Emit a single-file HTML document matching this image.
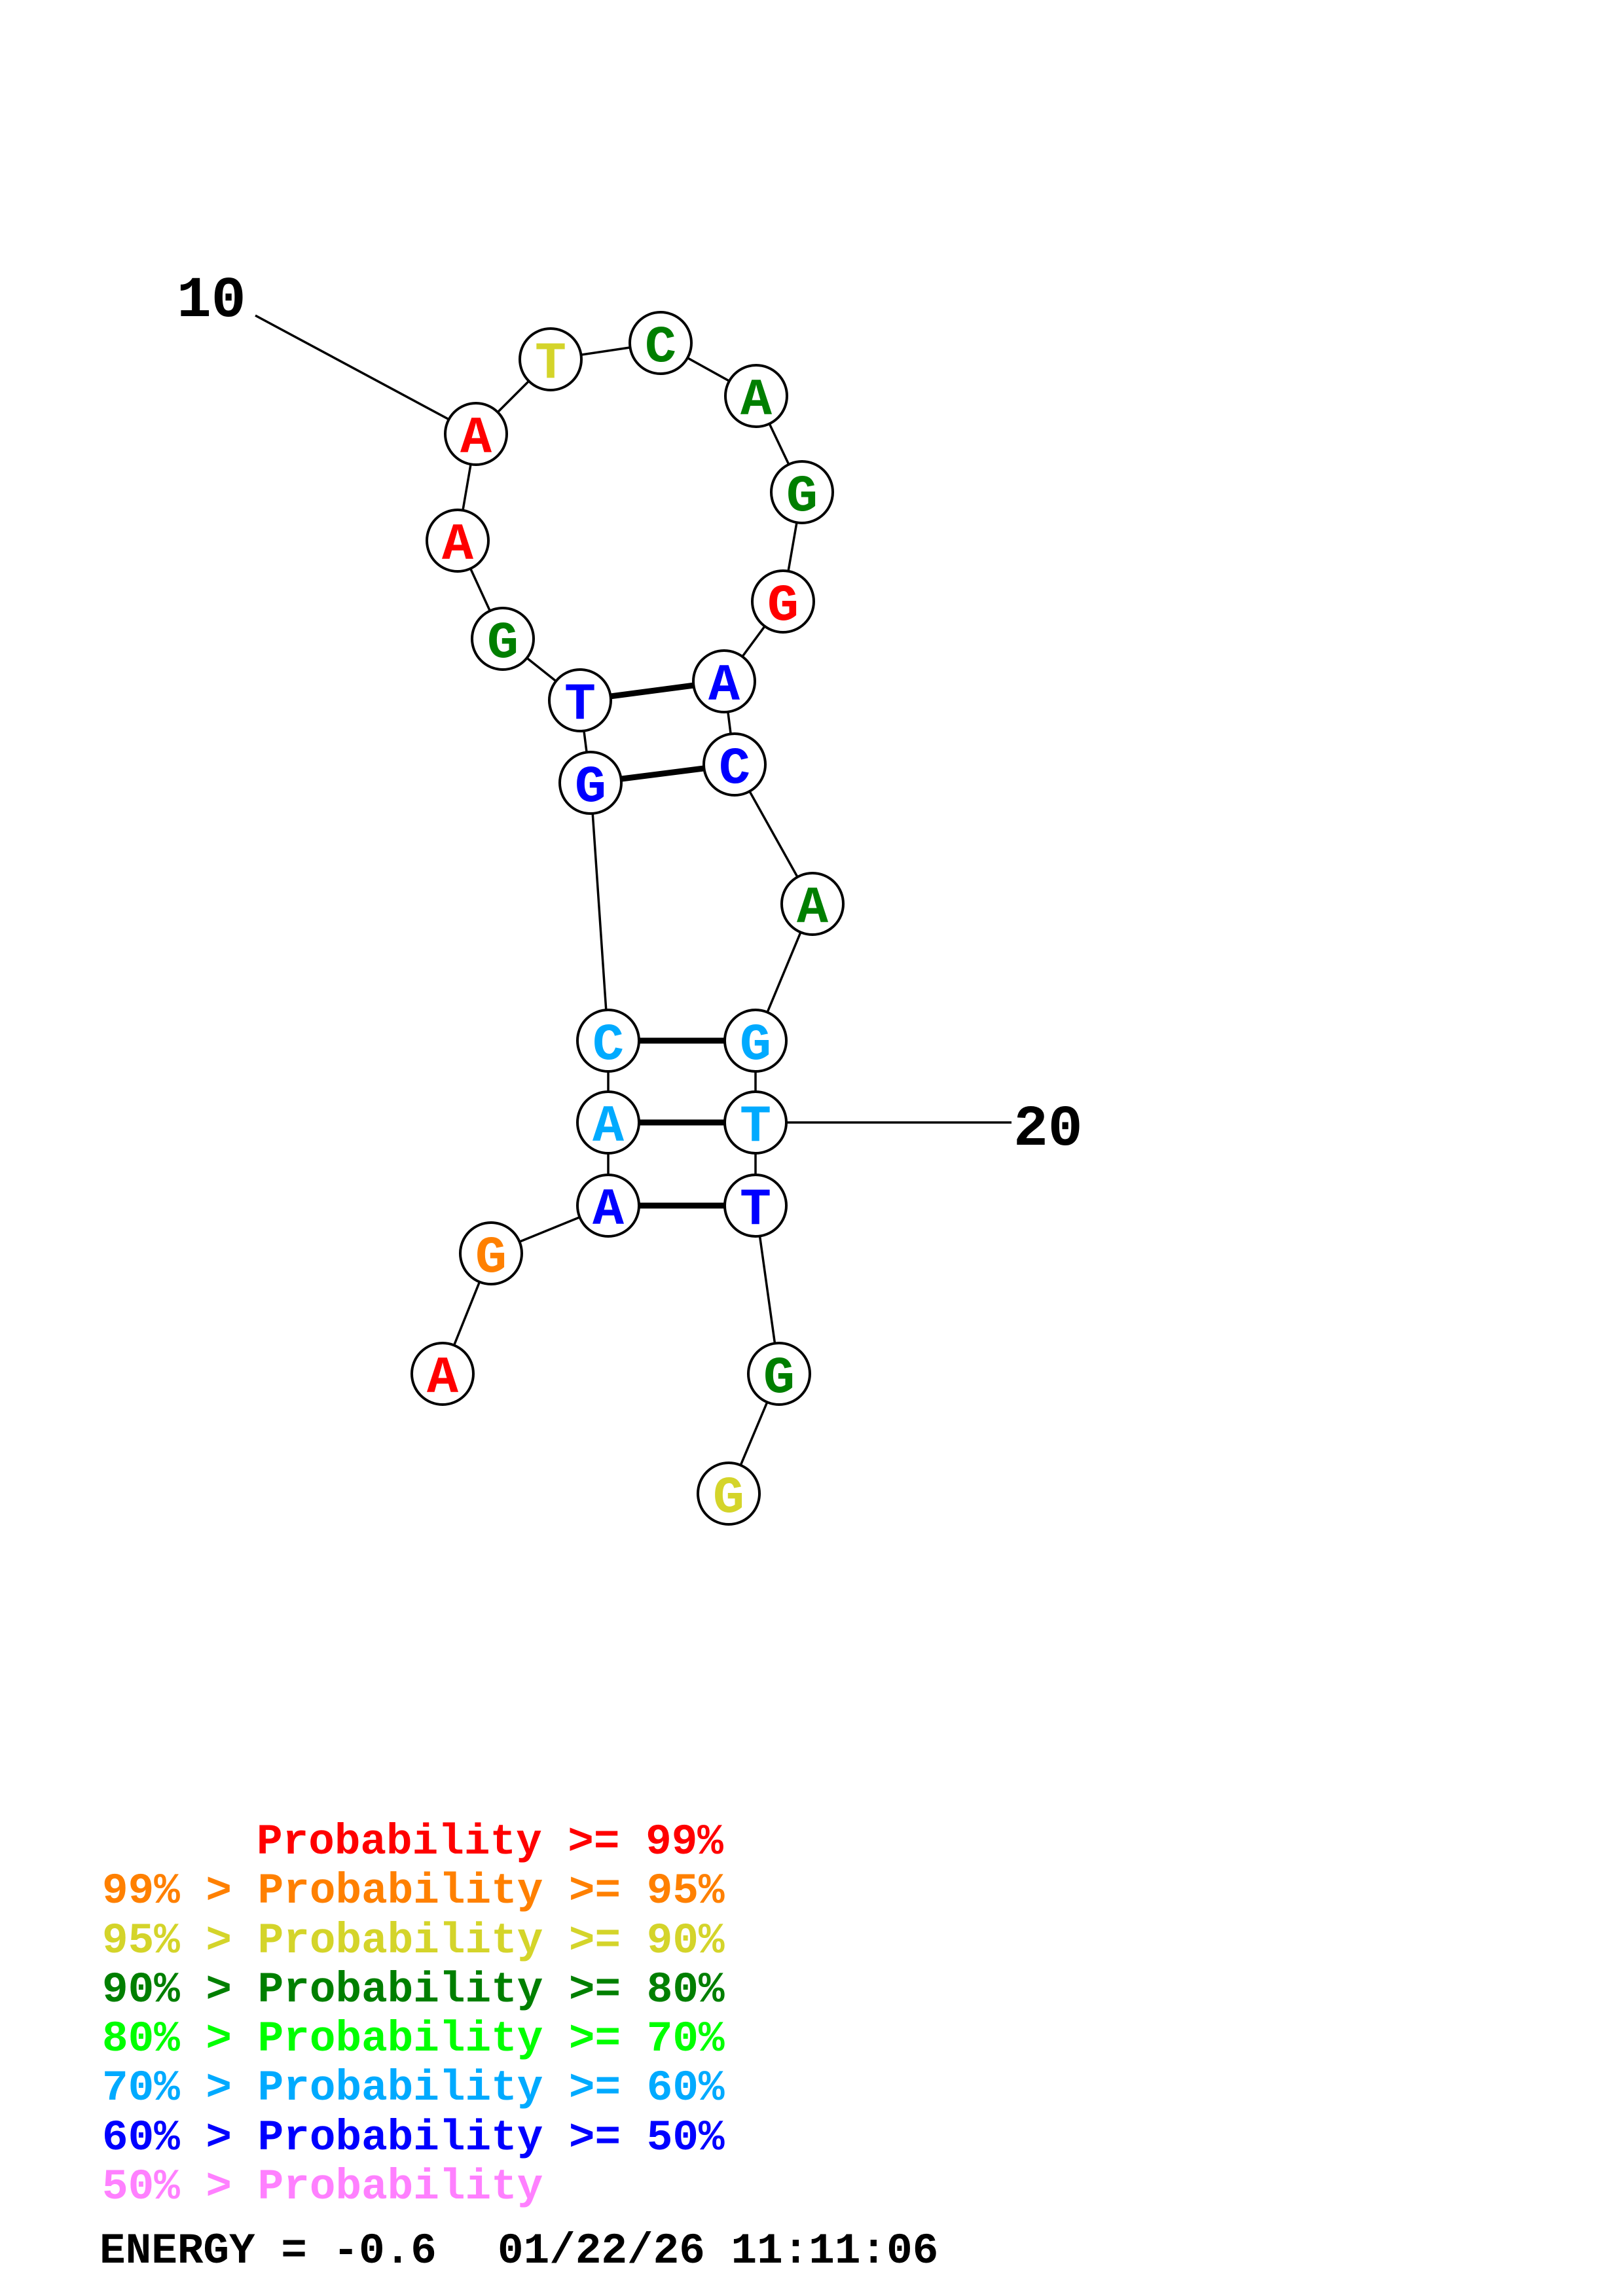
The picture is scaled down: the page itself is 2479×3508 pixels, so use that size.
<!DOCTYPE html>
<html><head><meta charset="utf-8"><style>
html,body{margin:0;padding:0;background:#fff}
svg{display:block}
.n{font-family:"Liberation Mono",monospace;font-weight:bold;font-size:80px;text-anchor:middle}
.l{font-family:"Liberation Mono",monospace;font-weight:bold;font-size:66px}
</style></head><body>
<svg width="2479" height="3508" viewBox="0 0 2479 3508" xmlns="http://www.w3.org/2000/svg">
<g stroke="#000" stroke-width="3.5" fill="none">
<line x1="390" y1="482" x2="727" y2="663"/>
<polyline points="727,663 841,549 1009,524 1155,605 1225,752 1196,919 1106,1041 1122,1168 1241,1381 1154,1590 1154,1715 1154,1842 1190,2099 1113,2282"/>
<polyline points="727,663 699,826 768,976 886,1070 902,1196 929,1590 929,1715 929,1842 750,1915 676,2099"/>
<line x1="1154" y1="1715" x2="1545" y2="1715"/>
</g>
<g stroke="#000" stroke-width="9">
<line x1="886" y1="1070" x2="1106" y2="1041"/>
<line x1="902" y1="1196" x2="1122" y2="1168"/>
<line x1="929" y1="1590" x2="1154" y2="1590"/>
<line x1="929" y1="1715" x2="1154" y2="1715"/>
<line x1="929" y1="1842" x2="1154" y2="1842"/>
</g>
<g fill="#fff" stroke="#000" stroke-width="4">
<circle cx="727" cy="663" r="47"/><circle cx="841" cy="549" r="47"/><circle cx="1009" cy="524" r="47"/>
<circle cx="1155" cy="605" r="47"/><circle cx="1225" cy="752" r="47"/><circle cx="1196" cy="919" r="47"/>
<circle cx="1106" cy="1041" r="47"/><circle cx="1122" cy="1168" r="47"/><circle cx="1241" cy="1381" r="47"/>
<circle cx="1154" cy="1590" r="47"/><circle cx="1154" cy="1715" r="47"/><circle cx="1154" cy="1842" r="47"/>
<circle cx="1190" cy="2099" r="47"/><circle cx="1113" cy="2282" r="47"/>
<circle cx="699" cy="826" r="47"/><circle cx="768" cy="976" r="47"/><circle cx="886" cy="1070" r="47"/>
<circle cx="902" cy="1196" r="47"/><circle cx="929" cy="1590" r="47"/><circle cx="929" cy="1715" r="47"/>
<circle cx="929" cy="1842" r="47"/><circle cx="750" cy="1915" r="47"/><circle cx="676" cy="2099" r="47"/>
</g>
<g class="n">
<text x="727" y="691" fill="#ff0000">A</text>
<text x="841" y="577" fill="#d4d42a">T</text>
<text x="1009" y="552" fill="#007f00">C</text>
<text x="1155" y="633" fill="#007f00">A</text>
<text x="1225" y="780" fill="#007f00">G</text>
<text x="1196" y="947" fill="#ff0000">G</text>
<text x="1106" y="1069" fill="#0000ff">A</text>
<text x="1122" y="1196" fill="#0000ff">C</text>
<text x="1241" y="1409" fill="#007f00">A</text>
<text x="1154" y="1618" fill="#00aaff">G</text>
<text x="1154" y="1743" fill="#00aaff">T</text>
<text x="1154" y="1870" fill="#0000ff">T</text>
<text x="1190" y="2127" fill="#007f00">G</text>
<text x="1113" y="2310" fill="#d4d42a">G</text>
<text x="699" y="854" fill="#ff0000">A</text>
<text x="768" y="1004" fill="#007f00">G</text>
<text x="886" y="1098" fill="#0000ff">T</text>
<text x="902" y="1224" fill="#0000ff">G</text>
<text x="929" y="1618" fill="#00aaff">C</text>
<text x="929" y="1743" fill="#00aaff">A</text>
<text x="929" y="1870" fill="#0000ff">A</text>
<text x="750" y="1943" fill="#ff8000">G</text>
<text x="676" y="2127" fill="#ff0000">A</text>
</g>
<text x="270" y="483" font-family="Liberation Mono,monospace" font-weight="bold" font-size="88" fill="#000">10</text>
<text x="1548" y="1749" font-family="Liberation Mono,monospace" font-weight="bold" font-size="88" fill="#000">20</text>
<g class="l">
<text x="392" y="2832" fill="#ff0000">Probability &gt;= 99%</text>
<text x="156" y="2907" fill="#ff8000">99% &gt; Probability &gt;= 95%</text>
<text x="156" y="2983" fill="#d4d42a">95% &gt; Probability &gt;= 90%</text>
<text x="156" y="3058" fill="#007f00">90% &gt; Probability &gt;= 80%</text>
<text x="156" y="3133" fill="#00ff00">80% &gt; Probability &gt;= 70%</text>
<text x="156" y="3208" fill="#00aaff">70% &gt; Probability &gt;= 60%</text>
<text x="156" y="3284" fill="#0000ff">60% &gt; Probability &gt;= 50%</text>
<text x="156" y="3359" fill="#ff80ff">50% &gt; Probability</text>
<text x="152" y="3457" fill="#000">ENERGY = -0.6</text>
<text x="760" y="3457" fill="#000">01/22/26 11:11:06</text>
</g>
</svg>
</body></html>
